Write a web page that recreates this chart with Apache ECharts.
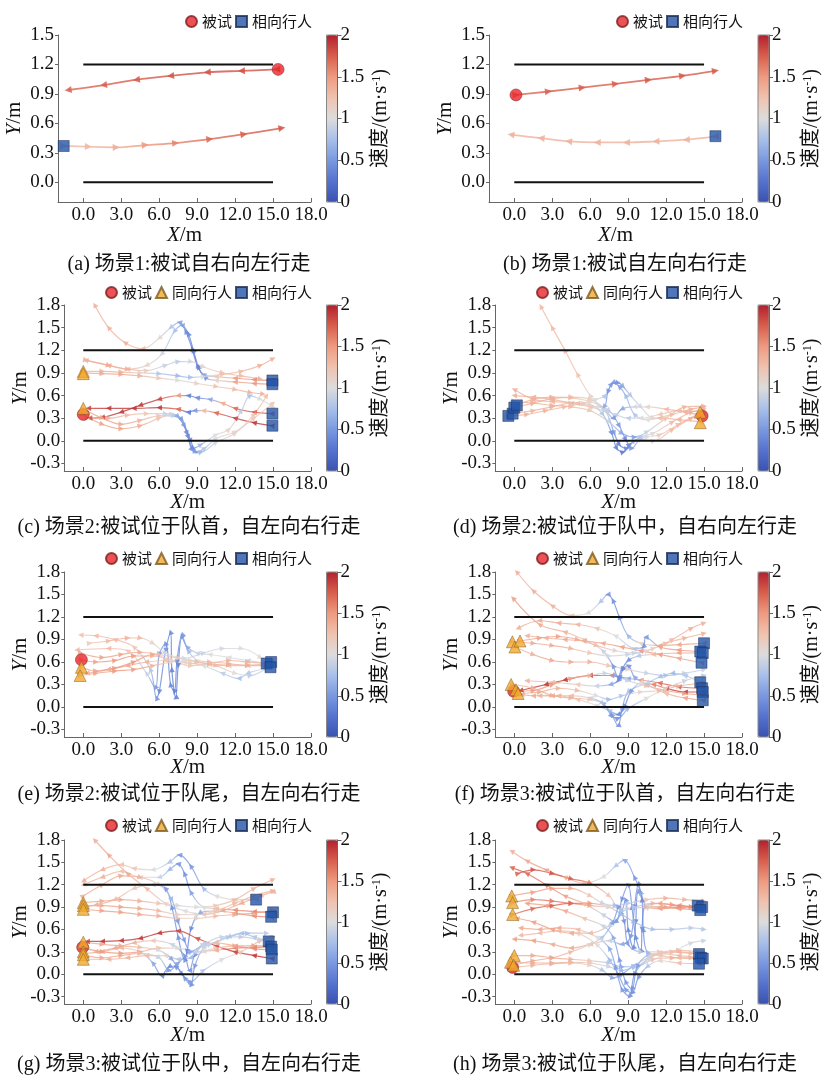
<!DOCTYPE html>
<html>
<head>
<meta charset="utf-8">
<script src="https://cdn.jsdelivr.net/npm/echarts@6/dist/echarts.min.js"></script>
<style>
html, body { margin: 0; padding: 0; background: #fff; }
#main { width: 822px; height: 1076px; }
</style>
</head>
<body>
<div id="main"></div>
<script>
// 速度色标 (0 ~ 2 m/s)
var speedMin = 0, speedMax = 2;
var speedStops = ['#3a52b0', '#5572cf', '#7a98e0', '#a8c0ea', '#dcdcdc', '#f0c2ae', '#ee9a80', '#d85e4c', '#b2202e'];
var xTicks = [0, 3, 6, 9, 12, 15, 18];
var yTicksShort = [0, 0.3, 0.6, 0.9, 1.2, 1.5];
var yTicksTall = [-0.3, 0, 0.3, 0.6, 0.9, 1.2, 1.5, 1.8];
var wallX = [0, 15];
var wallY = [0, 1.2];
var captions = [
    '(a) 场景1:被试自右向左行走', '(b) 场景1:被试自左向右行走',
    '(c) 场景2:被试位于队首，自左向右行走', '(d) 场景2:被试位于队中，自右向左行走',
    '(e) 场景2:被试位于队尾，自左向右行走', '(f) 场景3:被试位于队首，自左向右行走',
    '(g) 场景3:被试位于队中，自左向右行走', '(h) 场景3:被试位于队尾，自左向右行走'
];

// 轨迹: 每条为 [x, y, 速度] 按行走顺序
var trajA = [
    [[15.3,1.15,1.8],[12.5,1.135,1.8],[9.8,1.12,1.8],[6.9,1.085,1.78],[4.2,1.045,1.76],[1.6,0.99,1.74],[-1.2,0.94,1.72]],
    [[-1.55,0.37,1.3],[0.4,0.363,1.32],[2.6,0.357,1.38],[4.9,0.38,1.5],[7.3,0.4,1.6],[10.0,0.44,1.7],[12.7,0.49,1.75],[15.7,0.553,1.78]]
];
var subjA = [[15.4, 1.15]];
var sameA = [];
var oppA = [[-1.55, 0.37]];

var trajB = [
    [[0.13,0.89,1.72],[2.7,0.925,1.74],[5.37,0.965,1.75],[8.0,1.003,1.75],[10.6,1.044,1.76],[13.3,1.085,1.76],[15.9,1.135,1.76]],
    [[15.9,0.468,1.35],[13.6,0.434,1.35],[11.2,0.417,1.35],[8.87,0.406,1.35],[6.56,0.406,1.35],[4.3,0.417,1.35],[2.12,0.45,1.35],[-0.26,0.485,1.35]]
];
var subjB = [[0.13, 0.89]];
var sameB = [];
var oppB = [[15.9, 0.47]];

var trajC = [
    [[14.9,0.8,1.6],[13.5,0.81,1.55],[12,0.83,1.5],[10.5,0.85,1.2],[9.5,0.88,0.6],[9.0,1.0,0.4],[8.6,1.22,0.35],[8.1,1.45,0.4],[7.6,1.57,0.55],[6.9,1.5,0.8],[6.0,1.36,1.05],[4.7,1.22,1.3],[3.3,1.3,1.35],[2.0,1.5,1.35],[0.9,1.8,1.35]],
    [[14.9,0.75,1.55],[13.5,0.76,1.5],[12,0.78,1.45],[10.5,0.8,1.1],[9.6,0.84,0.5],[9.1,0.98,0.35],[8.7,1.2,0.35],[8.3,1.42,0.4],[7.8,1.53,0.55],[7.2,1.45,0.75],[6.2,1.15,0.95],[5,1.0,1.1],[3.5,0.95,1.3],[2,1.0,1.35],[0.2,1.07,1.35]],
    [[14.9,0.36,1.75],[13.5,0.38,1.75],[12,0.43,1.7],[11,0.5,1.4],[10,0.55,0.6],[9,0.57,0.4],[8.3,0.6,0.35],[7.5,0.6,1.5],[6,0.55,1.85],[4.5,0.47,1.9],[3,0.38,1.9],[1.5,0.31,1.85],[0.5,0.3,1.8]],
    [[14.9,0.2,1.9],[13.5,0.24,1.9],[12,0.3,1.85],[10.5,0.37,1.7],[9.5,0.4,1.3],[8.8,0.4,0.5],[8.3,0.38,0.3],[7.5,0.42,1.7],[6,0.44,1.9],[4,0.43,1.9],[2,0.43,1.9],[0.4,0.43,1.85]],
    [[0,0.92,1.3],[1.5,0.92,1.35],[3,0.91,1.35],[4.5,0.9,1.1],[6,0.89,0.8],[7.5,0.86,0.7],[8.5,0.84,0.75],[9.5,0.85,1.0],[11,0.88,1.25],[12.5,0.92,1.3],[14,1.0,1.35],[15,1.09,1.35]],
    [[0,0.9,1.35],[1.5,0.89,1.4],[3,0.88,1.4],[4.5,0.86,1.35],[6,0.83,1.2],[7.5,0.8,1.0],[9,0.76,1.1],[10.5,0.72,1.25],[12,0.68,1.3],[13.2,0.64,1.35],[14.2,0.62,1.35]],
    [[0,0.42,1.35],[1.5,0.3,1.4],[3,0.22,1.4],[4.5,0.27,1.35],[6,0.33,1.2],[7.2,0.33,0.8],[8,0.2,0.5],[8.5,0.0,0.45],[8.9,-0.15,0.5],[9.6,-0.1,0.8],[10.5,0.03,1.0],[12,0.12,1.1],[13.5,0.3,1.2],[15,0.5,1.25]],
    [[0,0.35,1.4],[1.5,0.22,1.45],[3,0.16,1.45],[4.5,0.2,1.4],[6,0.3,1.25],[7,0.35,0.9],[7.8,0.28,0.5],[8.3,0.05,0.4],[8.7,-0.1,0.4],[9.3,-0.05,0.7],[10.5,0.08,1.0],[11.5,0.15,1.1],[12.5,0.4,0.85],[13.2,0.6,0.75],[14,0.55,1.0],[15,0.45,1.1]],
    [[0.3,0.3,1.3],[2,0.3,1.35],[3.5,0.34,1.3],[5,0.36,1.2],[6.5,0.36,0.9],[7.5,0.32,0.6],[8.2,0.1,0.4],[8.6,-0.12,0.45],[9.3,-0.15,0.7],[10.5,-0.02,0.95],[12,0.1,1.1],[13.5,0.35,1.2],[14.5,0.6,1.3]],
    [[0.2,1.07,1.35],[2,1.0,1.4],[3.5,0.95,1.35],[5,0.93,1.15],[6.5,1.0,0.9],[7.5,1.05,0.85],[8.5,1.05,0.95],[9.5,0.98,1.1],[11,0.9,1.25],[12.5,0.86,1.3],[14,0.82,1.35]]
];
var subjC = [[0, 0.35]];
var sameC = [[0, 0.92], [0, 0.89], [0, 0.43]];
var oppC = [[14.95, 0.8], [14.95, 0.75], [14.95, 0.36], [14.95, 0.2]];

var trajD = [
    [[14.7,0.38,1.3],[13,0.4,1.3],[11.5,0.35,1.2],[10,0.3,1.0],[9,0.3,0.85],[8,0.35,0.9],[7,0.42,1.0],[6,0.6,1.1],[5,0.88,1.25],[4,1.2,1.3],[3,1.5,1.3],[2.1,1.78,1.3]],
    [[14.85,0.33,1.35],[13.5,0.38,1.35],[12,0.42,1.3],[10.5,0.45,1.1],[9.5,0.45,0.95],[8.5,0.42,0.6],[7.8,0.3,0.5],[7.3,0.38,0.9],[6,0.45,1.2],[4.5,0.5,1.35],[3,0.55,1.35],[1.5,0.58,1.35],[0,0.6,1.35]],
    [[14.7,0.25,1.35],[13,0.28,1.35],[11.5,0.3,1.3],[10.5,0.28,1.0],[9.5,0.35,0.8],[8.8,0.6,0.7],[8.3,0.72,0.55],[7.8,0.77,0.5],[7.4,0.65,0.45],[7.1,0.45,0.6],[6.5,0.45,1.0],[5,0.5,1.3],[3,0.52,1.35],[1.5,0.55,1.35],[0,0.68,1.35]],
    [[-0.47,0.33,1.3],[1,0.35,1.35],[2.5,0.4,1.35],[4,0.45,1.3],[5.5,0.5,1.2],[6.5,0.55,1.0],[7.2,0.6,0.8],[7.7,0.75,0.5],[8.2,0.77,0.45],[8.6,0.72,0.6],[9.2,0.6,0.8],[10,0.45,0.95],[11,0.3,1.1],[12.5,0.35,1.3],[14,0.42,1.35],[15,0.45,1.35]],
    [[-0.13,0.36,1.3],[1.5,0.4,1.35],[3,0.45,1.35],[4.5,0.5,1.3],[6,0.48,1.1],[7,0.35,0.8],[7.7,0.1,0.45],[8.1,-0.1,0.35],[8.6,-0.15,0.3],[9.1,-0.05,0.4],[10,0.05,0.8],[11,0.1,1.05],[12.5,0.25,1.3],[14,0.38,1.35],[15,0.42,1.35]],
    [[0,0.44,1.3],[1.5,0.5,1.35],[3,0.56,1.35],[4.5,0.58,1.3],[6,0.55,1.15],[7.2,0.4,0.9],[7.9,0.1,0.5],[8.3,-0.05,0.35],[8.9,-0.1,0.4],[9.5,0.0,0.7],[10.5,0.05,1.0],[11.5,0.08,1.2],[13,0.22,1.3],[14.5,0.35,1.35],[15,0.38,1.35]],
    [[0.2,0.47,1.3],[1.5,0.55,1.35],[3,0.58,1.35],[4.5,0.57,1.3],[6,0.52,1.1],[7.5,0.4,0.85],[8.3,0.2,0.5],[8.8,0.02,0.4],[9.3,-0.1,0.5],[10,0.02,0.8],[11,0.0,1.1],[12.5,0.15,1.3],[14,0.3,1.35],[15,0.35,1.35]],
    [[0,0.52,1.3],[1.5,0.5,1.35],[3,0.47,1.35],[4.5,0.45,1.3],[6,0.4,1.2],[7.5,0.25,0.9],[8.5,0.1,0.6],[9.5,0.05,0.55],[10.5,0.12,0.9],[12,0.3,1.25],[13.5,0.45,1.35],[15,0.46,1.35]]
];
var subjD = [[14.85, 0.33]];
var sameD = [[14.7, 0.38], [14.7, 0.24]];
var oppD = [[-0.47, 0.33], [-0.13, 0.36], [0, 0.44], [0.2, 0.47]];

var trajE = [
    [[14.5,0.58,1.0],[13,0.62,0.9],[11.5,0.66,1.0],[10,0.7,1.0],[9,0.72,0.9],[8.2,0.8,0.6],[7.8,0.93,0.45],[7.5,0.55,0.35],[7.3,0.12,0.35],[7.0,0.5,0.35],[6.9,1.0,0.4],[6.5,0.75,0.45],[6.0,0.2,0.4],[5.8,0.12,0.45],[5.3,0.5,0.8],[4,0.8,1.2],[2.5,0.9,1.3],[1,0.95,1.3],[-0.2,0.96,1.25]],
    [[14.85,0.6,1.1],[13,0.55,1.2],[11.5,0.55,1.25],[10,0.57,1.2],[9,0.62,1.0],[8.3,0.75,0.7],[7.8,0.95,0.5],[7.4,0.6,0.4],[7.2,0.2,0.35],[6.9,0.3,0.4],[6.5,0.85,0.45],[6.0,0.7,0.5],[5.7,0.25,0.5],[5.0,0.45,0.9],[3.5,0.75,1.25],[2,0.78,1.3],[-0.5,0.76,1.3]],
    [[14.8,0.53,1.0],[13,0.45,0.8],[12.3,0.38,0.75],[11,0.45,0.85],[9.5,0.55,1.0],[8,0.6,1.1],[6.5,0.62,1.25],[5,0.6,1.35],[3.5,0.55,1.4],[2,0.5,1.4],[0.3,0.45,1.35]],
    [[-0.15,0.63,1.4],[1,0.6,1.45],[2.5,0.62,1.5],[4,0.68,1.5],[5.5,0.68,1.3],[7,0.62,1.0],[8.5,0.58,1.2],[10,0.57,1.35],[11.5,0.56,1.4],[13,0.56,1.4],[14.5,0.56,1.4]],
    [[-0.15,0.53,1.4],[1,0.48,1.45],[2.5,0.52,1.5],[4,0.6,1.5],[5.5,0.7,1.4],[7,0.62,1.1],[8.5,0.55,1.2],[10,0.58,1.3],[11.5,0.62,1.35],[13,0.6,1.35],[14.5,0.58,1.35]],
    [[-0.25,0.42,1.4],[1,0.45,1.45],[2.5,0.48,1.5],[4,0.5,1.5],[5.5,0.55,1.35],[7,0.6,1.1],[8.5,0.62,1.1],[10,0.6,1.3],[11.5,0.58,1.35],[13,0.55,1.35],[14.5,0.55,1.35]],
    [[0.5,0.85,1.2],[2,0.88,1.3],[3.5,0.92,1.35],[4.5,0.92,1.3],[5.5,0.85,1.1],[6.5,0.72,0.95],[8,0.65,0.95],[9.5,0.72,0.9],[11,0.78,0.95],[12.5,0.78,1.0],[14,0.66,1.05]],
    [[-0.2,0.72,1.4],[1.5,0.66,1.45],[3,0.7,1.45],[4.5,0.73,1.4],[6,0.7,1.25],[7.5,0.65,1.2],[9,0.6,1.3],[10.5,0.55,1.3],[12,0.45,1.0],[13.2,0.42,0.85],[14.5,0.52,0.95]]
];
var subjE = [[-0.15, 0.63]];
var sameE = [[-0.15, 0.53], [-0.25, 0.42]];
var oppE = [[14.5, 0.58], [14.85, 0.6], [14.8, 0.53]];

var trajF = [
    [[15,0.85,1.45],[13,0.83,1.45],[11.5,0.82,1.4],[10,0.85,1.1],[9,0.95,0.7],[8.3,1.2,0.5],[7.8,1.42,0.45],[7.4,1.5,0.5],[6.8,1.4,0.8],[5.8,1.25,1.0],[4.5,1.22,1.3],[3,1.35,1.35],[1.5,1.55,1.35],[0.2,1.8,1.35]],
    [[14.7,0.74,1.5],[13,0.76,1.5],[11.5,0.8,1.45],[10.4,0.93,0.5],[10.2,0.8,0.45],[9.5,0.78,0.8],[8,0.95,1.0],[6.5,1.05,1.2],[5,1.1,1.35],[3.5,1.12,1.4],[2,1.15,1.4],[0.3,1.05,1.35]],
    [[14.9,0.72,1.45],[13,0.72,1.45],[11,0.7,1.3],[9.8,0.68,0.8],[9,0.62,0.45],[8.5,0.5,0.4],[8.2,0.4,0.4],[7.8,0.55,0.5],[7,0.75,0.9],[5.5,0.9,1.2],[4,1.0,1.35],[2,1.1,1.4],[-0.1,1.45,1.45]],
    [[14.8,0.59,1.4],[13,0.65,1.45],[11.5,0.7,1.5],[10,0.75,1.5],[8.5,0.8,1.45],[7,0.85,1.4],[5.5,0.88,1.4],[4,0.9,1.4],[2.5,0.92,1.35],[1,0.95,1.35]],
    [[14.7,0.33,1.2],[13.5,0.42,0.8],[12.5,0.45,0.7],[11.5,0.4,0.75],[10.5,0.32,0.9],[9,0.2,0.75],[8.5,-0.05,0.5],[8.2,-0.25,0.45],[7.7,-0.1,0.5],[7,0.05,0.55],[6,0.12,0.9],[4.5,0.15,1.3],[3,0.15,1.4],[1.5,0.15,1.4],[0.6,0.17,1.4]],
    [[14.85,0.25,1.7],[13,0.27,1.75],[11.5,0.32,1.7],[10,0.36,1.5],[9,0.38,0.6],[8.3,0.4,0.45],[7.7,0.42,1.6],[6,0.42,1.85],[4,0.36,1.9],[2.5,0.3,1.9],[0.5,0.22,1.85]],
    [[14.9,0.2,1.85],[13.5,0.2,1.9],[12,0.25,1.85],[11,0.3,1.6],[10,0.32,1.0],[9.2,0.2,0.5],[8.7,0.0,0.4],[8.2,-0.1,0.4],[7.5,-0.05,0.7],[6.5,0.02,1.0],[5,0.1,1.25],[3.5,0.15,1.35],[2,0.15,1.35]],
    [[14.9,0.09,1.5],[13.5,0.12,1.45],[12,0.18,1.3],[10.5,0.3,0.8],[9.5,0.4,0.6],[9,0.55,0.45],[8.6,0.5,0.4],[8.2,0.35,0.4],[7.6,0.3,0.6],[6.5,0.28,0.9],[5,0.3,1.2],[3,0.33,1.3],[1,0.35,1.35]],
    [[0,0.21,1.45],[1.5,0.22,1.5],[3,0.3,1.5],[4.5,0.38,1.45],[6,0.42,1.3],[7.2,0.45,0.9],[8,0.42,0.6],[9,0.35,0.9],[10.5,0.28,1.3],[12,0.22,1.45],[13.5,0.18,1.5],[15,0.16,1.5]],
    [[-0.15,0.87,1.35],[1.5,0.85,1.4],[3,0.82,1.4],[4.5,0.78,1.35],[6,0.72,1.2],[7.5,0.68,0.95],[9,0.7,0.9],[10.5,0.75,1.1],[12,0.85,1.3],[13.5,0.92,1.35],[15,0.98,1.35]],
    [[0.45,0.88,1.4],[2,0.92,1.45],[3.5,0.94,1.45],[5,0.9,1.4],[6.5,0.82,1.3],[8,0.75,1.1],[9.5,0.72,0.9],[11,0.78,1.1],[12.5,0.9,1.3],[14,1.05,1.35],[15,1.12,1.35]],
    [[0.05,0.8,1.3],[1.5,0.7,1.35],[3,0.62,1.4],[4.5,0.6,1.4],[6,0.6,1.35],[7.5,0.55,1.2],[9,0.5,1.1],[10.5,0.45,0.9],[12,0.42,0.75],[13.5,0.45,0.85],[15,0.5,0.9]],
    [[-0.1,0.3,1.3],[1.5,0.25,1.35],[3,0.15,1.4],[4.5,0.12,1.35],[6,0.1,1.2],[7,0.05,0.8],[7.7,-0.12,0.5],[8.2,-0.15,0.45],[9,-0.02,0.7],[10.5,0.12,1.0],[12,0.25,1.1],[13.5,0.35,0.9],[15,0.42,0.85]],
    [[0.3,0.18,1.35],[2,0.2,1.4],[3.5,0.25,1.35],[5,0.22,1.3],[6.5,0.15,1.0],[7.5,0.1,0.7],[8.5,0.15,0.8],[10,0.2,1.1],[11.5,0.22,1.3],[13,0.28,1.35],[15,0.32,1.35]]
];
var subjF = [[-0.05, 0.21]];
var sameF = [[-0.15, 0.87], [0.05, 0.8], [0.45, 0.88], [-0.25, 0.3], [0.13, 0.23], [0.3, 0.18]];
var oppF = [[15, 0.85], [14.7, 0.74], [14.9, 0.72], [14.8, 0.59], [14.7, 0.33], [14.85, 0.25], [14.9, 0.2], [14.9, 0.09]];

var trajG = [
    [[13.66,1.0,1.2],[12,1.0,1.1],[10.5,1.05,1.0],[9.5,1.15,0.7],[8.5,1.45,0.5],[7.6,1.6,0.5],[6.8,1.5,0.8],[5.5,1.4,1.0],[4,1.42,1.2],[3,1.47,1.25],[1.5,1.4,1.35],[0,1.25,1.35]],
    [[15,0.83,1.6],[13.5,0.84,1.6],[12,0.86,1.55],[10.5,0.88,1.3],[9.5,0.9,1.0],[8.5,1.1,0.55],[8,1.35,0.45],[7.5,1.48,0.5],[6.8,1.4,0.7],[6,1.3,0.9],[4.5,1.3,1.1],[3,1.38,1.25],[1.5,1.3,1.35],[0,1.2,1.35]],
    [[14.85,0.77,1.55],[13.5,0.78,1.55],[12,0.82,1.5],[10.5,0.85,1.2],[9.2,0.82,0.6],[8.5,0.6,0.4],[8.2,0.3,0.35],[8.0,0.2,0.4],[7.5,0.5,0.45],[7.0,0.9,0.45],[6.5,1.15,0.5],[5.5,1.2,0.9],[4,1.15,1.2],[2.5,1.0,1.3],[1,0.93,1.35],[0,0.9,1.35]],
    [[14.66,0.44,1.2],[13.5,0.5,0.8],[12.5,0.55,0.75],[11.5,0.5,0.8],[10.5,0.42,0.9],[9.5,0.35,0.9],[8.8,0.1,0.5],[8.5,-0.15,0.45],[8,-0.05,0.5],[7.3,0.1,0.45],[6.8,0.1,0.4],[6.2,-0.02,0.4],[5.5,0.15,0.6],[4.5,0.3,1.0],[3,0.35,1.3],[1.5,0.3,1.35],[0,0.28,1.35]],
    [[14.85,0.37,1.6],[13.5,0.36,1.65],[12,0.35,1.6],[10.5,0.32,1.4],[9.5,0.3,1.1],[8.5,0.22,0.7],[7.5,0.2,0.8],[6.5,0.25,1.1],[5,0.25,1.3],[3.5,0.22,1.35],[2,0.2,1.35],[0.2,0.2,1.35]],
    [[14.9,0.21,1.9],[13.5,0.25,1.9],[12,0.3,1.85],[10.5,0.38,1.8],[9,0.48,1.8],[7.5,0.58,1.85],[6,0.55,1.9],[4.5,0.48,1.9],[3,0.45,1.9],[1.5,0.44,1.9],[0.3,0.44,1.85]],
    [[14.9,0.33,1.5],[13.5,0.34,1.55],[12,0.38,1.5],[10.5,0.42,1.3],[9.5,0.4,0.8],[8.8,0.25,0.5],[8.4,0.05,0.45],[8,0.25,0.5],[7,0.4,0.9],[5.5,0.45,1.2],[4,0.42,1.35],[2.5,0.35,1.4],[1,0.3,1.4]],
    [[0,0.96,1.35],[1.5,0.98,1.4],[3,1.0,1.4],[4.5,0.98,1.35],[6,0.95,1.2],[7.5,0.92,0.95],[9,0.9,1.0],[10.5,0.92,1.2],[12,1.0,1.3],[13.5,1.15,1.35],[15,1.27,1.35]],
    [[0,0.92,1.35],[1.5,0.92,1.4],[3,0.9,1.45],[4.5,0.88,1.4],[6,0.85,1.3],[7.5,0.8,1.1],[9,0.8,1.0],[10.5,0.85,1.2],[12,0.95,1.3],[13.5,1.05,1.35],[15,1.12,1.35]],
    [[0,0.87,1.4],[1.5,0.85,1.45],[3,0.83,1.45],[4.5,0.8,1.4],[6,0.78,1.35],[7.5,0.75,1.2],[9,0.75,1.1],[10.5,0.78,1.3],[12,0.8,1.4],[13.5,0.82,1.45],[15,0.85,1.45]],
    [[0,0.35,1.5],[1.5,0.3,1.5],[3,0.28,1.5],[4.5,0.3,1.45],[6,0.35,1.3],[7.5,0.35,1.0],[9,0.3,0.9],[10.5,0.35,1.2],[12,0.38,1.4],[13.5,0.38,1.45],[15,0.38,1.45]],
    [[0,0.43,1.35],[1.5,0.4,1.4],[3,0.38,1.4],[4.5,0.36,1.3],[6,0.32,1.0],[7,0.2,0.6],[7.8,0.0,0.45],[8.5,-0.1,0.5],[9.5,0.05,0.8],[11,0.2,1.0],[12.5,0.3,1.2],[14,0.45,1.3],[15,0.5,1.3]],
    [[0,0.26,1.35],[1.5,0.22,1.4],[3,0.25,1.4],[4.5,0.28,1.3],[6,0.22,0.9],[6.8,0.05,0.5],[7.5,0.15,0.55],[8.5,0.3,0.75],[10,0.4,0.9],[11.5,0.5,0.8],[13,0.55,0.75],[14.5,0.55,0.85]],
    [[15,1.1,1.35],[14,1.05,1.35],[12.5,0.95,1.4],[11,0.85,1.4],[9.5,0.8,1.2],[8,0.85,1.0],[6.5,0.95,1.1],[5,1.15,1.3],[3.5,1.35,1.4],[2,1.6,1.4],[0.9,1.8,1.35]],
    [[0,1.05,1.35],[1.5,1.2,1.4],[3,1.32,1.4],[4.5,1.3,1.35],[6,1.2,1.1],[7,1.0,0.7],[7.5,0.7,0.5],[8,0.45,0.5],[8.5,0.3,0.6],[9.5,0.4,0.9],[11,0.5,0.9],[12.5,0.5,0.85],[14,0.45,0.9]]
];
var subjG = [[-0.05, 0.36]];
var sameG = [[0, 0.96], [0, 0.92], [0, 0.87], [0, 0.43], [0, 0.3], [0, 0.26], [0, 0.2]];
var oppG = [[13.66, 1.0], [15, 0.83], [14.85, 0.77], [14.66, 0.44], [14.85, 0.37], [14.9, 0.33], [14.9, 0.21]];

var trajH = [
    [[14.5,0.92,1.5],[13,0.9,1.55],[11.5,0.88,1.5],[10.5,0.9,1.2],[10,1.1,0.6],[9.5,1.3,0.5],[8.7,1.53,0.6],[8,1.45,0.8],[7,1.3,1.0],[5.5,1.22,1.3],[4,1.3,1.4],[2.5,1.4,1.45],[1,1.52,1.4],[-0.2,1.65,1.35]],
    [[14.85,0.9,1.55],[13,0.92,1.55],[11.5,0.95,1.45],[10.3,0.9,0.7],[10.1,0.6,0.45],[10,0.3,0.4],[9.6,0.5,0.4],[9.3,0.9,0.45],[9,1.2,0.5],[8.5,1.0,0.45],[8,0.7,0.5],[7,0.8,0.9],[5.5,0.95,1.3],[4,1.05,1.45],[2.5,1.2,1.6],[1,1.35,1.7],[-0.2,1.43,1.7]],
    [[14.7,0.86,1.5],[13,0.88,1.5],[11.5,0.9,1.4],[10.5,0.92,1.0],[9.8,1.1,0.5],[9.6,0.7,0.4],[9.4,0.35,0.4],[9.0,0.6,0.4],[8.8,1.0,0.45],[8.4,0.8,0.5],[7.5,0.65,0.9],[6,0.55,1.3],[4.5,0.55,1.4],[3,0.6,1.45],[1.5,0.7,1.45],[0.2,0.75,1.4]],
    [[14.6,0.27,1.4],[13,0.3,1.35],[11.5,0.28,1.2],[10.5,0.2,0.9],[9.5,0.0,0.5],[9.1,-0.3,0.45],[8.5,-0.2,0.5],[8,0.1,0.5],[7.5,0.35,0.6],[6.5,0.5,1.0],[5,0.6,1.3],[3.5,0.62,1.4],[2,0.6,1.4],[0.5,0.62,1.4]],
    [[14.75,0.22,1.35],[13,0.25,1.3],[11.5,0.28,1.2],[10.5,0.25,0.8],[9.7,0.1,0.5],[9.3,-0.2,0.45],[8.8,-0.1,0.5],[8.3,0.2,0.5],[7.8,0.5,0.6],[7,0.65,0.9],[5.5,0.75,1.25],[4,0.85,1.4],[2.5,0.92,1.45],[1,0.95,1.45]],
    [[14.9,0.21,1.3],[13,0.22,1.3],[11.5,0.25,1.2],[10.5,0.3,0.7],[10.2,0.6,0.45],[10.1,1.0,0.4],[9.8,1.2,0.45],[9.5,0.9,0.45],[9.2,0.5,0.5],[8.5,0.4,0.6],[7.5,0.45,0.9],[6,0.4,1.3],[4.5,0.35,1.4],[3,0.4,1.4],[1.5,0.45,1.45],[0,0.47,1.45]],
    [[14.6,0.14,1.3],[13,0.15,1.3],[11.5,0.18,1.1],[10.5,0.1,0.8],[9.8,-0.05,0.5],[9.3,-0.25,0.45],[8.8,-0.2,0.5],[8.2,0.0,0.55],[7.5,0.2,0.7],[6.5,0.4,1.0],[5,0.55,1.2],[3.5,0.58,1.3],[2,0.55,1.3],[0.5,0.52,1.3]],
    [[-0.2,1.05,1.4],[1.5,1.1,1.45],[3,1.15,1.45],[4.5,1.15,1.4],[6,1.05,1.2],[7,0.95,0.9],[8,0.92,0.75],[9,0.95,0.85],[10.5,1.0,1.2],[12,1.02,1.35],[13.5,1.0,1.35],[15,0.98,1.3]],
    [[-0.13,0.96,1.5],[1.5,1.0,1.6],[3,0.98,1.65],[4.5,0.95,1.6],[6,0.92,1.4],[7.5,0.9,1.0],[9,0.88,0.9],[10.5,0.9,1.3],[12,0.9,1.45],[13.5,0.9,1.45],[15,0.9,1.45]],
    [[-0.13,0.8,1.6],[1.5,0.88,1.7],[3,0.92,1.75],[4.5,0.95,1.7],[6,0.95,1.5],[7.5,0.9,1.1],[8.5,0.8,0.75],[9.5,0.7,0.7],[11,0.6,0.75],[12.5,0.6,0.8],[14,0.62,0.85],[15,0.6,0.8]],
    [[0,0.25,1.35],[1.5,0.25,1.4],[3,0.22,1.4],[4.5,0.2,1.35],[6,0.18,1.2],[7.5,0.15,0.8],[8.5,0.1,0.6],[9.5,0.1,0.7],[11,0.2,1.0],[12.5,0.3,1.0],[14,0.42,0.95],[15,0.45,0.9]],
    [[-0.3,0.16,1.35],[1.5,0.15,1.4],[3,0.15,1.4],[4.5,0.16,1.35],[6,0.15,1.25],[7.5,0.1,0.9],[8.5,0.05,0.7],[9.5,0.1,0.8],[11,0.2,1.25],[12.5,0.22,1.35],[14,0.22,1.35],[15,0.22,1.35]],
    [[-0.13,0.09,1.3],[1.5,0.12,1.35],[3,0.14,1.35],[4.5,0.15,1.3],[6,0.12,1.1],[7,0.05,0.8],[7.8,-0.05,0.6],[8.5,0.0,0.55],[9.5,0.12,0.75],[11,0.25,1.2],[12.5,0.3,1.3],[14,0.28,1.3],[15,0.28,1.3]],
    [[-0.05,0.12,1.35],[1.5,0.18,1.4],[3,0.22,1.4],[4.5,0.3,1.3],[6,0.4,1.1],[7,0.5,0.8],[7.8,0.7,0.55],[8.3,0.9,0.5],[8.7,0.7,0.45],[9,0.4,0.5],[10,0.3,0.9],[11.5,0.3,1.2],[13,0.32,1.3],[14.5,0.3,1.3]],
    [[0.3,1.35,1.75],[1.5,1.4,1.8],[3,1.35,1.8],[4.5,1.28,1.75],[6,1.22,1.6],[7.5,1.05,1.2],[8.5,0.85,0.8],[9.5,0.9,0.85],[11,0.95,1.35],[12.5,0.93,1.5],[14,0.9,1.55]]
];
var subjH = [[-0.13, 0.09]];
var sameH = [[-0.2, 1.05], [-0.13, 0.96], [-0.13, 0.8], [0, 0.25], [-0.3, 0.16], [-0.05, 0.12]];
var oppH = [[14.5, 0.92], [14.85, 0.9], [14.7, 0.86], [14.6, 0.27], [14.75, 0.22], [14.9, 0.21], [14.6, 0.14]];

var panels = [
    {traj: trajA, subj: subjA, same: sameA, opp: oppA},
    {traj: trajB, subj: subjB, same: sameB, opp: oppB},
    {traj: trajC, subj: subjC, same: sameC, opp: oppC},
    {traj: trajD, subj: subjD, same: sameD, opp: oppD},
    {traj: trajE, subj: subjE, same: sameE, opp: oppE},
    {traj: trajF, subj: subjF, same: sameF, opp: oppF},
    {traj: trajG, subj: subjG, same: sameG, opp: oppG},
    {traj: trajH, subj: subjH, same: sameH, opp: oppH}
];

// 版面
var rows = [
    {top: 35, bottom: 202, ymin: -0.2, ymax: 1.5, yTicks: yTicksShort, legendY: 23, captionY: 265, nameGap: 23},
    {top: 305, bottom: 471, ymin: -0.4, ymax: 1.8, yTicks: yTicksTall, legendY: 294, captionY: 528, nameGap: 21},
    {top: 572, bottom: 737, ymin: -0.4, ymax: 1.8, yTicks: yTicksTall, legendY: 560, captionY: 795, nameGap: 20},
    {top: 840, bottom: 1004, ymin: -0.4, ymax: 1.8, yTicks: yTicksTall, legendY: 827, captionY: 1065, nameGap: 21}
];
var cols = [
    {right: 311, cbLeft: 326.5, capX: 189, legendRight: 510},
    {right: 742, cbLeft: 758, capX: 625, legendRight: 79}
];
var pxPerM = 12.65;

var serif = 'Liberation Serif';
var cjk = 'Noto Sans CJK SC';
var axisColor = '#666';

function speedColor(v) {
    return echarts.color.lerp((v - speedMin) / (speedMax - speedMin), speedStops);
}

function trackGradient(t, sx, sy) {
    var xs = t.map(function (p) { return p[0]; });
    var ys = t.map(function (p) { return p[1]; });
    var x0 = Math.min.apply(null, xs), x1 = Math.max.apply(null, xs);
    var y0 = Math.min.apply(null, ys), y1 = Math.max.apply(null, ys);
    var useX = (x1 - x0) * sx >= (y1 - y0) * sy;
    var stops = t.map(function (p) {
        var off = useX ? (p[0] - x0) / (x1 - x0) : (y1 - p[1]) / (y1 - y0);
        return {offset: off, color: speedColor(p[2])};
    }).sort(function (a, b) { return a.offset - b.offset; });
    return useX ? new echarts.graphic.LinearGradient(0, 0, 1, 0, stops)
                : new echarts.graphic.LinearGradient(0, 0, 0, 1, stops);
}

function trackRotate(t, sx, sy) {
    return function (value, params) {
        var i = params.dataIndex;
        var a = t[Math.max(i - 1, 0)], b = t[Math.min(i + 1, t.length - 1)];
        var dx = (b[0] - a[0]) * sx, dy = (b[1] - a[1]) * sy;
        return Math.atan2(dy, dx) * 180 / Math.PI - 90;
    };
}

var option = {
    animation: false,
    backgroundColor: '#fff',
    grid: [], xAxis: [], yAxis: [], series: [], visualMap: [], legend: [], graphic: []
};

panels.forEach(function (p, k) {
    var R = rows[Math.floor(k / 2)];
    var C = cols[k % 2];
    var xmin = k < 2 ? -2 : -1.5;
    var left = C.right - (18 - xmin) * pxPerM;
    var h = R.bottom - R.top;
    var sx = pxPerM, sy = h / (R.ymax - R.ymin);
    var gi = option.grid.length;
    var big = k < 2;

    option.grid.push({left: left, top: R.top, width: C.right - left, height: h, outerBoundsMode: 'none'});
    option.grid.push({left: C.cbLeft, top: R.top, width: 11, height: h, outerBoundsMode: 'none',
        show: true, backgroundColor: 'transparent', borderColor: '#888', borderWidth: 1, z: 5});

    option.xAxis.push({
        type: 'value', gridIndex: gi, min: xmin, max: 18,
        name: '{i|X}/m', nameLocation: 'middle', nameGap: R.nameGap, nameMoveOverlap: false,
        nameTextStyle: {fontFamily: serif, fontSize: 21, color: '#111',
            rich: {i: {fontFamily: serif, fontSize: 21, fontStyle: 'italic', color: '#111'}}},
        axisLine: {onZero: false, lineStyle: {color: axisColor, width: 1}},
        axisTick: {inside: true, length: 4, customValues: xTicks, lineStyle: {color: axisColor}},
        axisLabel: {customValues: xTicks, formatter: function (v) { return v.toFixed(1); },
            fontFamily: serif, fontSize: 19, color: '#111', margin: 4},
        splitLine: {show: false}
    });
    option.xAxis.push({type: 'value', gridIndex: gi + 1, min: 0, max: 1, show: false});

    option.yAxis.push({
        type: 'value', gridIndex: gi, min: R.ymin, max: R.ymax,
        name: '{i|Y}/m', nameLocation: 'middle', nameRotate: 90, nameGap: 33, nameMoveOverlap: false,
        nameTextStyle: {fontFamily: serif, fontSize: 21, color: '#111',
            rich: {i: {fontFamily: serif, fontSize: 21, fontStyle: 'italic', color: '#111'}}},
        axisLine: {onZero: false, show: true, lineStyle: {color: axisColor, width: 1}},
        axisTick: {show: true, length: 3, customValues: R.yTicks, lineStyle: {color: axisColor}},
        axisLabel: {customValues: R.yTicks, formatter: function (v) { return v.toFixed(1); },
            fontFamily: serif, fontSize: 19, color: '#111', margin: 4},
        splitLine: {show: false}
    });
    option.yAxis.push({
        type: 'value', gridIndex: gi + 1, position: 'right', min: speedMin, max: speedMax, interval: 0.5,
        name: '速度/(m·s{sup|-1})', nameLocation: 'middle', nameRotate: 90, nameGap: 33, nameMoveOverlap: false,
        nameTextStyle: {fontFamily: serif + ', ' + cjk, fontSize: 20, color: '#111',
            rich: {sup: {fontFamily: serif, fontSize: 12, verticalAlign: 'top', color: '#111'}}},
        axisLine: {onZero: false, show: true, lineStyle: {color: axisColor}},
        axisTick: {show: true, length: 4, lineStyle: {color: axisColor}},
        axisLabel: {fontFamily: serif, fontSize: 19, color: '#111', margin: 3},
        splitLine: {show: false}, z: 6
    });

    var trackIdx = [];
    p.traj.forEach(function (t) {
        trackIdx.push(option.series.length);
        option.series.push({
            type: 'line', xAxisIndex: gi, yAxisIndex: gi, data: t,
            smooth: 0.35, symbol: 'triangle', symbolSize: big ? 7 : 5.5, showAllSymbol: true,
            symbolRotate: trackRotate(t, sx, sy),
            lineStyle: {width: big ? 1.8 : 1.2, color: trackGradient(t, sx, sy), opacity: 0.8},
            itemStyle: {opacity: 0.85},
            silent: true, z: 2
        });
    });

    wallY.forEach(function (wy) {
        option.series.push({
            type: 'line', xAxisIndex: gi, yAxisIndex: gi,
            data: wallX.map(function (x) { return [x, wy]; }),
            symbol: 'none', lineStyle: {color: '#111', width: 2}, silent: true, z: 3
        });
    });

    option.series.push({
        type: 'scatter', name: '被试', xAxisIndex: gi, yAxisIndex: gi, data: p.subj,
        symbol: 'circle', symbolSize: 12,
        itemStyle: {color: '#e8262a', borderColor: '#7a2020', borderWidth: 0.6}, z: 6
    });
    if (p.same.length) {
        option.series.push({
            type: 'scatter', name: '同向行人', xAxisIndex: gi, yAxisIndex: gi, data: p.same,
            symbol: 'triangle', symbolSize: 12,
            itemStyle: {color: '#f2a92e', borderColor: '#7a5a20', borderWidth: 0.6}, z: 6
        });
    }
    option.series.push({
        type: 'scatter', name: '相向行人', xAxisIndex: gi, yAxisIndex: gi, data: p.opp,
        symbol: 'rect', symbolSize: 11,
        itemStyle: {color: '#2254a8', borderColor: '#1c2c50', borderWidth: 0.6}, z: 6
    });

    option.legend.push({
        data: p.same.length ? ['被试', '同向行人', '相向行人'] : ['被试', '相向行人'],
        right: C.legendRight, top: R.legendY - 9, padding: 0,
        itemWidth: 11, itemHeight: 11, itemGap: 3, selectedMode: false,
        textStyle: {fontFamily: cjk, fontSize: 15, color: '#111'}
    });

    option.visualMap.push({
        type: 'continuous', min: speedMin, max: speedMax, dimension: 2, seriesIndex: trackIdx,
        inRange: {color: speedStops}, orient: 'vertical', left: C.cbLeft, top: R.top,
        itemWidth: 11, itemHeight: h, calculable: false, showLabel: false, text: null,
        padding: 0, hoverLink: false, z: 2
    });

    option.graphic.push({
        type: 'text', x: C.capX, y: R.captionY, silent: true,
        style: {text: captions[k], font: '20px "' + serif + '", "' + cjk + '"',
            textAlign: 'center', align: 'center', textVerticalAlign: 'middle', verticalAlign: 'middle', fill: '#111'}
    });
});

var chart = echarts.init(document.getElementById('main'));
chart.setOption(option);

window.addEventListener('resize', function () {
    chart.resize();
});
</script>
</body>
</html>
